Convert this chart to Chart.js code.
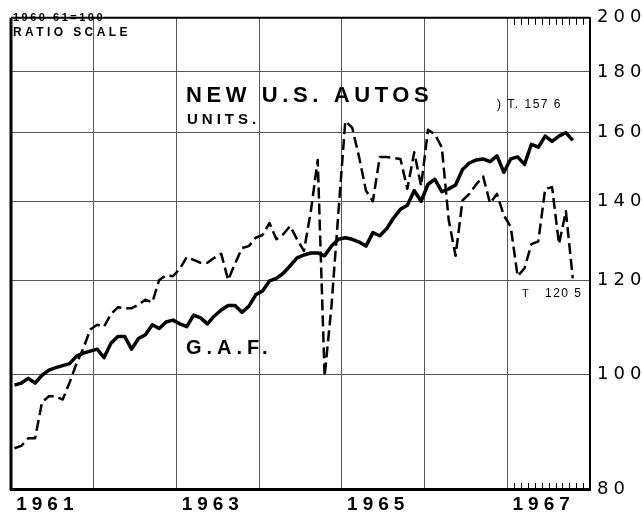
<!DOCTYPE html>
<html>
<head>
<meta charset="utf-8">
<script src="https://cdn.jsdelivr.net/npm/chart.js@4.4.0/dist/chart.umd.min.js"></script>
<style>
  body { margin: 0; background: #fff; }
  #wrap { width: 642px; height: 515px; position: relative; }
</style>
</head>
<body>
<div id="wrap"><canvas id="chart"></canvas></div>
<script>
// monthly values, Jan 1961 .. Oct 1967 (1960-61 = 100)
const gaf = [
  97.9, 98.3, 99.2, 98.3, 99.8, 100.8, 101.3, 101.7, 102.1, 103.6, 104.2, 104.6,
  105.0, 103.3, 106.2, 107.6, 107.6, 105.0, 107.2, 108.0, 110.1, 109.3, 110.7, 111.1,
  110.3, 109.7, 112.2, 111.6, 110.3, 112.0, 113.3, 114.3, 114.3, 112.8, 114.1, 116.7,
  117.6, 119.9, 120.5, 121.7, 123.5, 125.4, 126.1, 126.6, 126.6, 125.9, 128.3, 130.0,
  130.4, 130.0, 129.3, 128.3, 131.7, 130.9, 132.7, 135.5, 137.8, 138.9, 142.9, 140.0,
  144.7, 146.1, 142.6, 143.4, 144.5, 148.9, 150.8, 151.7, 152.0, 151.2, 152.9, 148.1,
  152.0, 152.6, 150.4, 156.4, 155.5, 158.9, 157.3, 158.9, 160.0, 157.6
];
const autos = [
  86.6, 87.0, 88.3, 88.3, 94.7, 95.8, 95.8, 95.2, 98.4, 102.1, 105.2, 109.1,
  110.1, 109.7, 112.4, 113.9, 113.7, 113.7, 114.5, 115.6, 115.0, 120.1, 121.2, 121.0,
  122.8, 125.6, 124.9, 124.2, 124.2, 125.4, 126.4, 120.1, 124.0, 127.8, 128.3, 130.4,
  131.1, 134.2, 130.0, 131.3, 133.4, 130.0, 127.1, 137.3, 151.7, 99.6, 114.3, 137.0,
  163.6, 161.5, 152.6, 142.9, 140.0, 152.6, 152.6, 152.3, 152.0, 143.4, 154.0, 144.2,
  160.9, 159.4, 155.5, 135.0, 125.9, 140.2, 142.0, 144.7, 146.9, 139.4, 142.0, 136.2,
  133.2, 121.0, 122.9, 128.8, 129.5, 143.4, 143.9, 128.8, 137.3, 120.5
];
const yearLabels = ["1961", "1962", "1963", "1964", "1965", "1966", "1967"];
const ratioTicks = [80, 100, 120, 140, 160, 180, 200];

// month i is plotted in the middle of its slot
const toPoints = (arr) => arr.map((v, i) => ({ x: i + 0.5, y: v }));

function txt(ctx, s, x, y, font, spacing) {
  ctx.font = font;
  ctx.letterSpacing = spacing + "px";
  ctx.fillText(s, x, y);
}

const extras = {
  id: "extras",
  beforeDraw(chart) {
    chart.ctx.letterSpacing = "5px";
  },
  afterDraw(chart) {
    const ctx = chart.ctx;
    const a = chart.chartArea;
    const xs = chart.scales.x;
    ctx.save();
    ctx.strokeStyle = "#000";
    ctx.lineWidth = 3;
    ctx.beginPath();
    ctx.moveTo(a.left, a.top);
    ctx.lineTo(a.left, a.bottom + 1);
    ctx.stroke();
    ctx.lineWidth = 2;
    ctx.beginPath();
    ctx.moveTo(a.left, a.top);
    ctx.lineTo(a.right, a.top);
    ctx.stroke();

    // monthly ticks along 1967
    ctx.lineWidth = 1;
    ctx.beginPath();
    for (let m = 73; m < 84; m++) {
      const px = Math.round(xs.getPixelForValue(m)) + 0.5;
      ctx.moveTo(px, a.top);
      ctx.lineTo(px, a.top + 7);
      ctx.moveTo(px, a.bottom);
      ctx.lineTo(px, a.bottom - 6);
    }
    ctx.stroke();

    ctx.fillStyle = "#000";
    ctx.textBaseline = "alphabetic";
    ctx.textAlign = "left";
    txt(ctx, "1960 61=100", 13, 21, "bold 11px 'Liberation Sans'", 2.5);
    txt(ctx, "RATIO SCALE", 13, 36, "bold 12px 'Liberation Sans'", 3.4);
    txt(ctx, "NEW U.S. AUTOS", 186, 102, "bold 22px 'Liberation Sans'", 4.6);
    txt(ctx, "UNITS.", 187, 124, "bold 15px 'Liberation Sans'", 4);
    txt(ctx, "G.A.F.", 186, 354, "bold 20px 'Liberation Sans'", 5);
    txt(ctx, ") T. 157 6", 497, 108, "12px 'Liberation Sans'", 1.5);
    txt(ctx, "T", 522, 297, "11px 'Liberation Sans'", 0);
    txt(ctx, "120 5", 545, 297, "12px 'Liberation Sans'", 1.5);
    ctx.restore();
    ctx.letterSpacing = "0px";
  }
};

Chart.defaults.color = "#000";

new Chart(document.getElementById("chart"), {
  type: "line",
  data: {
    datasets: [
      {
        label: "G.A.F.",
        data: toPoints(gaf),
        borderColor: "#000",
        borderWidth: 3.5,
        borderJoinStyle: "round",
        pointRadius: 0,
        tension: 0,
      },
      {
        label: "New U.S. autos, units",
        data: toPoints(autos),
        borderColor: "#000",
        borderWidth: 2.5,
        borderDash: [11, 5],
        borderJoinStyle: "round",
        pointRadius: 0,
        tension: 0,
      },
    ],
  },
  options: {
    responsive: true,
    maintainAspectRatio: false,
    animation: false,
    layout: { padding: { left: 11, top: 7, right: 0, bottom: 0 } },
    plugins: {
      legend: { display: false },
      tooltip: { enabled: false },
    },
    scales: {
      x: {
        type: "linear",
        min: 0,
        max: 84,
        afterBuildTicks: (scale) => {
          scale.ticks = yearLabels.map((y, i) => ({ value: i * 12 + 6 }));
        },
        afterFit: (scale) => {
          scale.height = 26;
        },
        ticks: {
          autoSkip: false,
          maxRotation: 0,
          padding: 4,
          labelOffset: -5,
          font: { family: "'Liberation Sans'", size: 19, weight: "bold" },
          callback: (v, i) => (i % 2 === 0 ? yearLabels[i] : ""),
        },
        grid: { offset: true, color: "#555", lineWidth: 1, drawTicks: false },
        border: { display: true, color: "#000", width: 3 },
      },
      y: {
        type: "logarithmic",
        position: "right",
        min: 80,
        max: 200,
        afterBuildTicks: (scale) => {
          scale.ticks = ratioTicks.map((v) => ({ value: v }));
        },
        afterFit: (scale) => {
          scale.width = 52;
        },
        ticks: {
          padding: 7,
          font: { family: "'DejaVu Sans'", size: 18 },
          callback: (v) => String(v),
        },
        grid: { color: "#555", lineWidth: 1, drawTicks: false },
        border: { display: true, color: "#000", width: 2 },
      },
    },
  },
  plugins: [extras],
});
</script>
</body>
</html>
